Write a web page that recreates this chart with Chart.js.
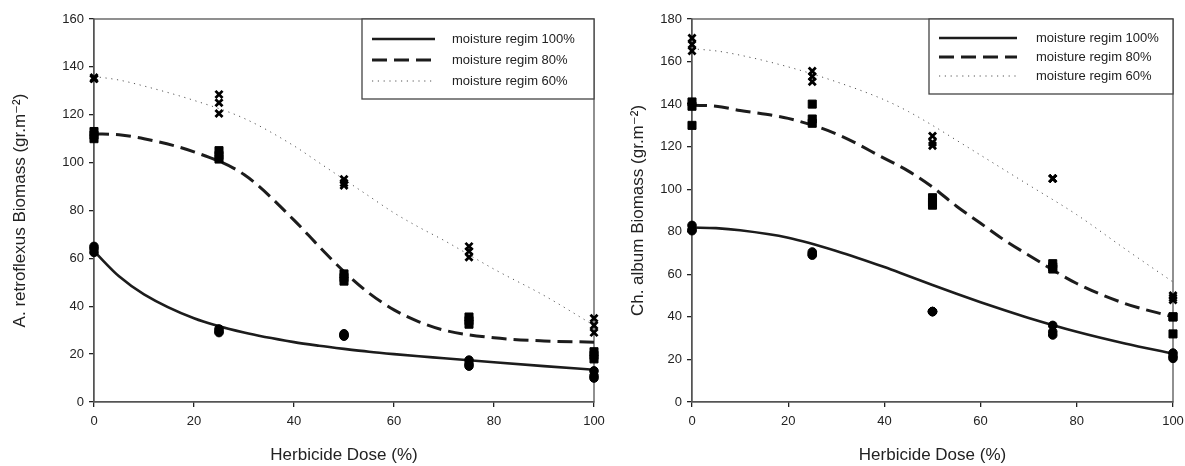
<!DOCTYPE html>
<html>
<head>
<meta charset="utf-8">
<script src="https://cdn.jsdelivr.net/npm/chart.js@4"></script>
<style>
  html, body { margin: 0; padding: 0; background: #fff; }
  #wrap { position: relative; width: 1185px; height: 466px; }
  canvas { position: absolute; top: 0; }
</style>
</head>
<body>
<div id="wrap">
  <canvas id="leftChart" width="615" height="466" style="left:0"></canvas>
  <canvas id="rightChart" width="570" height="466" style="left:615px"></canvas>
</div>
<script>
const FONT = "'Liberation Sans', Arial, 'DejaVu Sans', sans-serif";
const regimLabels = ['moisture regim 100%', 'moisture regim 80%', 'moisture regim 60%'];

// observed doses (three replicates each)
const doses = [0, 25, 50, 75, 100];

// A. retroflexus observations
const retro100 = [[65, 64, 62.5], [30.5, 29.5, 29], [28.5, 28, 27.5], [17.5, 16, 15], [13, 11, 10]];
const retro80 = [[113, 111.5, 110], [105, 103, 101.5], [53.5, 52, 50.5], [35.5, 34, 32.5], [21, 19.5, 18]];
const retro60 = [[135.5, 135, 135], [128.5, 125, 120.5], [93, 91.5, 90.5], [65, 63, 60.5], [35, 32, 29]];

// Ch. album observations
const album100 = [[83, 81, 80.5], [70.5, 69.5, 69], [42.5, 42.5, 42.5], [36, 33, 31.5], [23, 21.5, 20.5]];
const album80 = [[141, 139, 130], [140, 133, 131], [96, 94, 92.5], [65, 63.5, 62.5], [40, 40, 32]];
const album60 = [[171, 168, 165], [155.5, 153, 150.5], [125, 122, 120.5], [105, 105, 105], [50, 49, 48]];

// fitted curves read at these doses
const curveDoses = [0, 5, 10, 20, 30, 40, 45, 50, 55, 60, 65, 70, 80, 90, 100];
const retroFit100 = [63, 52.5, 45, 35, 29, 25, 23.5, 22.2, 21, 20, 19.1, 18.3, 16.6, 15, 13.5];
const retroFit80 = [112, 111.6, 110, 104.5, 95, 76, 65, 54.5, 45.5, 38.5, 33.5, 30, 26.8, 25.5, 25];
const retroFit60 = [136, 134.5, 132, 126, 118.5, 107, 100, 93, 86, 79, 73, 67.5, 55.5, 44.5, 32];
const albumFit100 = [82, 81.7, 80.7, 77.2, 71, 63.4, 59.2, 55, 50.9, 46.9, 43.1, 39.5, 33, 27.5, 22.7];
const albumFit80 = [139.5, 139, 137, 133.3, 126, 114.5, 108.5, 101, 92, 84, 76, 69, 55.7, 46.3, 40];
const albumFit60 = [166, 165, 163, 157.5, 150.5, 142, 136.5, 130, 123, 116, 109, 102, 88, 72, 56.4];

const xTicks = [0, 20, 40, 60, 80, 100];

const toPoints = (reps) => {
  const pts = [];
  reps.forEach((vals, i) => vals.forEach((v) => pts.push({ x: doses[i], y: v })));
  return pts;
};
const toCurve = (vals) => vals.map((v, i) => ({ x: curveDoses[i], y: v }));

const lineStyles = [
  { borderColor: '#1c1c1c', borderWidth: 2.6, borderDash: [] },
  { borderColor: '#1c1c1c', borderWidth: 3, borderDash: [15, 7] },
  { borderColor: '#555', borderWidth: 1, borderDash: [1.2, 4.6] },
];
const markerStyles = [
  { pointStyle: 'circle', pointRadius: 4.3 },
  { pointStyle: 'rect', pointRadius: 5.7 },
  { pointStyle: 'crossRot', pointRadius: 5 },
];

const frame = {
  id: 'frame',
  beforeDatasetsDraw(chart) {
    const { ctx, chartArea } = chart;
    ctx.save();
    ctx.strokeStyle = '#555';
    ctx.lineWidth = 1.3;
    ctx.strokeRect(chartArea.left, chartArea.top, chartArea.right - chartArea.left, chartArea.bottom - chartArea.top);
    ctx.restore();
  }
};

const boxLegend = {
  id: 'boxLegend',
  afterDraw(chart, args, opts) {
    const { ctx, chartArea } = chart;
    const left = chartArea.right - opts.width;
    const top = chartArea.top;
    ctx.save();
    ctx.fillStyle = '#fff';
    ctx.fillRect(left, top, opts.width, opts.height);
    ctx.strokeStyle = '#444';
    ctx.lineWidth = 1.3;
    ctx.strokeRect(left, top, opts.width, opts.height);
    ctx.font = '13px ' + FONT;
    ctx.textBaseline = 'middle';
    chart.data.datasets.filter((ds) => ds.showLine).forEach((ds, i) => {
      const y = top + opts.firstRow + i * opts.rowGap;
      ctx.beginPath();
      ctx.setLineDash(ds.borderDash);
      ctx.lineWidth = ds.borderWidth;
      ctx.strokeStyle = ds.borderColor;
      ctx.moveTo(left + opts.lineStart, y);
      ctx.lineTo(left + opts.lineStart + opts.lineLen, y);
      ctx.stroke();
      ctx.setLineDash([]);
      ctx.fillStyle = '#222';
      ctx.fillText(ds.label, left + opts.textStart, y);
    });
    ctx.restore();
  }
};

function makeChart(id, obs, fits, yMax, yTitle, yWidth, padRight, titlePad, legendOpts) {
  const datasets = [];
  obs.forEach((reps, i) => {
    datasets.push({
      data: toPoints(reps),
      showLine: false,
      clip: false,
      pointStyle: markerStyles[i].pointStyle,
      pointRadius: markerStyles[i].pointRadius,
      pointBackgroundColor: '#000',
      pointBorderColor: '#000',
      pointBorderWidth: i === 2 ? 2.8 : 1,
    });
  });
  fits.forEach((vals, i) => {
    datasets.push({
      label: regimLabels[i],
      data: toCurve(vals),
      showLine: true,
      pointRadius: 0,
      cubicInterpolationMode: 'monotone',
      borderColor: lineStyles[i].borderColor,
      borderWidth: lineStyles[i].borderWidth,
      borderDash: lineStyles[i].borderDash,
      fill: false,
    });
  });

  return new Chart(document.getElementById(id), {
    type: 'scatter',
    data: { datasets },
    options: {
      responsive: false,
      animation: false,
      devicePixelRatio: 1,
      layout: { padding: { top: 19, right: padRight, bottom: 0, left: 0 } },
      plugins: {
        legend: { display: false },
        tooltip: { enabled: false },
        boxLegend: legendOpts,
      },
      scales: {
        x: {
          type: 'linear',
          min: 0,
          max: 100,
          afterBuildTicks: (scale) => { scale.ticks = xTicks.map((v) => ({ value: v })); },
          afterFit: (scale) => { scale.height = 64; scale.paddingLeft = 0; scale.paddingRight = 0; },
          border: { display: true, color: '#555', width: 1.3 },
          grid: { display: true, drawOnChartArea: false, drawTicks: true, tickLength: 5, color: '#222', lineWidth: 1.3 },
          ticks: { color: '#222', font: { family: FONT, size: 13 }, padding: 7, maxRotation: 0 },
          title: { display: true, text: 'Herbicide Dose (%)', color: '#222', font: { family: FONT, size: 17 }, padding: { top: 0, bottom: 0 } },
        },
        y: {
          type: 'linear',
          min: 0,
          max: yMax,
          ticks: { stepSize: 20, color: '#222', font: { family: FONT, size: 13 }, padding: 5 },
          afterFit: (scale) => { scale.width = yWidth; },
          border: { display: true, color: '#555', width: 1.3 },
          grid: { display: true, drawOnChartArea: false, drawTicks: true, tickLength: 5, color: '#222', lineWidth: 1.3 },
          title: { display: true, text: yTitle, color: '#222', font: { family: FONT, size: 17 }, padding: { top: titlePad, bottom: 0 } },
        },
      },
    },
    plugins: [frame, boxLegend],
  });
}

makeChart('leftChart', [retro100, retro80, retro60], [retroFit100, retroFit80, retroFit60], 160,
  'A. retroflexus Biomass (gr.m\u207B\u00B2)', 94, 21, 10,
  { width: 232, height: 80, firstRow: 20, rowGap: 21, lineStart: 10, lineLen: 63, textStart: 90 });

makeChart('rightChart', [album100, album80, album60], [albumFit100, albumFit80, albumFit60], 180,
  'Ch. album Biomass (gr.m\u207B\u00B2)', 77, 12, 13,
  { width: 244, height: 75, firstRow: 19, rowGap: 19, lineStart: 10, lineLen: 78, textStart: 107 });
</script>
</body>
</html>
